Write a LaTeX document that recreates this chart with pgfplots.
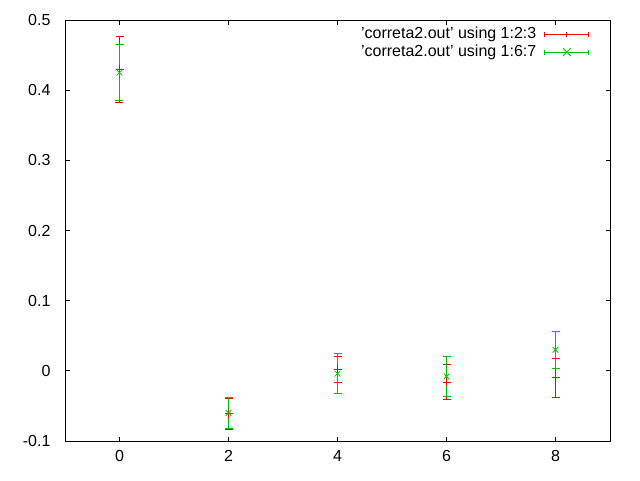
\documentclass[border=0pt]{standalone}
\usepackage{fontspec}
\setmainfont{Liberation Sans}
\usepackage{pgfplots}
\pgfplotsset{compat=1.18}
\definecolor{gpred}{RGB}{255,0,0}
\definecolor{gpgreen}{RGB}{0,192,0}
\begin{document}
\fontsize{16}{18}\selectfont
\begin{tikzpicture}
\begin{axis}[
  scale only axis,
  width=545pt, height=421pt,
  xmin=-1, xmax=9, ymin=-0.1, ymax=0.5,
  xtick={0,2,4,6,8},
  ytick={-0.1,0,0.1,0.2,0.3,0.4,0.5},
  tick align=inside,
  major tick length=4.5pt,
  tick style={black, line width=0.8pt},
  axis line style={line width=0.8pt},
  /pgf/number format/assume math mode=true,
  yticklabel style={/pgf/number format/fixed, /pgf/number format/precision=1, xshift=-9pt},
  tick label style={font=\fontsize{16}{18}\selectfont},
  xticklabel style={yshift=-4pt},
  legend style={draw=none, fill=none, at={(0.968,0.993)}, anchor=north east,
    font=\fontsize{16}{18}\selectfont, row sep=0pt, /tikz/column sep=6pt},
  legend cell align=right,
  legend plot pos=right,
]
\addplot[gpred, only marks, mark=+, mark size=4pt, line width=0.8pt,
  legend image code/.code={
    \draw[gpred, line width=1pt] (0pt,0pt) -- (44pt,0pt);
    \draw[gpred, line width=1pt] (0pt,-2.5pt) -- (0pt,2.5pt);
    \draw[gpred, line width=1pt] (44pt,-2.5pt) -- (44pt,2.5pt);
    \draw[gpred, line width=1pt] (22pt,-2.5pt) -- (22pt,2.5pt);
  },
  error bars/.cd, y dir=both, y explicit,
  error bar style={color=gpred, line width=1pt},
  error mark options={color=gpred, line width=1pt, mark size=4pt, rotate=90},
  ] table[x=x, y=y, y error=e] {
  x y e
  0 0.430 0.047
  2 -0.061 0.022
  4 0.002 0.019
  6 -0.016 0.025
  8 -0.010 0.028
};
\addlegendentry{'correta2.out' using 1:2:3}
\addplot[gpgreen, only marks, mark=x, mark size=4pt, line width=0.8pt,
  legend image code/.code={
    \draw[gpgreen, line width=1pt] (0pt,0pt) -- (44pt,0pt);
    \draw[gpgreen, line width=1pt] (0pt,-2.5pt) -- (0pt,2.5pt);
    \draw[gpgreen, line width=1pt] (44pt,-2.5pt) -- (44pt,2.5pt);
    \draw[gpgreen, line width=0.8pt] (18pt,-4pt) -- (26pt,4pt) (18pt,4pt) -- (26pt,-4pt);
  },
  error bars/.cd, y dir=both, y explicit,
  error bar style={color=gpgreen, line width=1pt},
  error mark options={color=gpgreen, line width=1pt, mark size=4pt, rotate=90},
  ] table[x=x, y=y, y error=e] {
  x y e
  0 0.425 0.040
  2 -0.060 0.022
  4 -0.004 0.029
  6 -0.008 0.028
  8 0.030 0.026
};
\addlegendentry{'correta2.out' using 1:6:7}
\end{axis}
\useasboundingbox (-65pt,-39pt) rectangle (575pt,441pt);
\end{tikzpicture}
\end{document}
